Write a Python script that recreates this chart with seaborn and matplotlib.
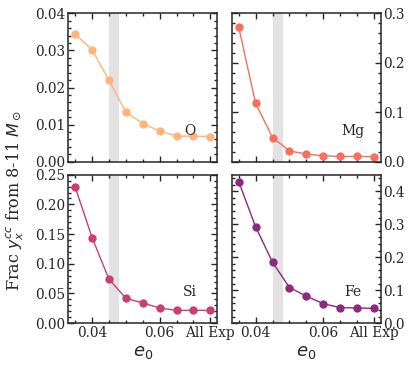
import numpy as np
import pandas as pd
import matplotlib
matplotlib.use("Agg")
import matplotlib.pyplot as plt
from matplotlib.ticker import AutoMinorLocator, MultipleLocator
import seaborn as sns

# e0 grid; the last point is the "All Exp" case, drawn at 0.075
e0 = [0.035, 0.040, 0.045, 0.050, 0.055, 0.060, 0.065, 0.070, 0.075]
xtick_pos = [0.04, 0.06, 0.075]
xtick_labels = ["0.04", "0.06", "All Exp"]

elements = ["O", "Mg", "Si", "Fe"]
frac_O = [0.0344, 0.0302, 0.0220, 0.0133, 0.0103, 0.0083, 0.0069, 0.0069, 0.0068]
frac_Mg = [0.272, 0.118, 0.049, 0.022, 0.0155, 0.012, 0.0107, 0.0107, 0.0101]
frac_Si = [0.229, 0.144, 0.074, 0.042, 0.034, 0.0255, 0.0215, 0.0215, 0.0215]
frac_Fe = [0.429, 0.292, 0.185, 0.108, 0.082, 0.059, 0.047, 0.046, 0.045]
ylims = [(0, 0.04), (0, 0.3), (0, 0.25), (0, 0.45)]
ymajor = [0.01, 0.1, 0.05, 0.1]
yfmt = ["%.2f", "%.1f", "%.2f", "%.1f"]

band = (0.045, 0.048)

sns.set_style("ticks")
plt.rcParams["font.family"] = ["DejaVu Serif"]
plt.rcParams["mathtext.fontset"] = "dejavusans"

df = pd.DataFrame(
    {
        "e0": e0 * 4,
        "frac": frac_O + frac_Mg + frac_Si + frac_Fe,
        "element": np.repeat(elements, len(e0)),
    }
)
colors = plt.cm.magma([0.84, 0.7, 0.55, 0.4])

fig = plt.figure(figsize=(4.15, 3.71), dpi=100)
lefts = [0.165, 0.559]
bottoms = [0.564, 0.129]
w, h = 0.358, 0.400
axes = []
for i, el in enumerate(elements):
    row, col = divmod(i, 2)
    ax = fig.add_axes([lefts[col], bottoms[row], w, h])
    axes.append(ax)
    ax.axvspan(band[0], band[1], color="#e2e2e2", lw=0, zorder=0)
    sns.lineplot(
        data=df[df["element"] == el], x="e0", y="frac", ax=ax,
        color=colors[i], marker="o", markersize=6, markeredgewidth=0,
        linewidth=1.0,
    )
    ax.set_xlim(0.033, 0.077)
    ax.set_ylim(*ylims[i])
    ax.set_xticks(xtick_pos)
    ax.xaxis.set_minor_locator(MultipleLocator(0.005))
    ax.yaxis.set_major_locator(MultipleLocator(ymajor[i]))
    ax.yaxis.set_minor_locator(AutoMinorLocator(5))
    ax.yaxis.set_major_formatter(plt.FormatStrFormatter(yfmt[i]))
    ax.tick_params(which="both", direction="in", top=True, right=True,
                   left=True, bottom=True, labelsize=9.8, width=1.0)
    ax.tick_params(which="major", length=4.5)
    ax.tick_params(which="minor", length=2.5)
    for s in ax.spines.values():
        s.set_linewidth(1.1)
    if col == 1:
        ax.tick_params(labelleft=False, labelright=True, pad=2)
    else:
        ax.tick_params(pad=2)
    if row == 0:
        ax.tick_params(labelbottom=False)
        ax.set_xlabel("")
    else:
        ax.set_xticklabels(xtick_labels)
        ax.set_xlabel("$e_0$", fontsize=13, labelpad=2)
    ax.set_ylabel("")
    ax.text(0.815, 0.21, el, transform=ax.transAxes, ha="center",
            va="center", fontsize=10)

fig.text(0.036, 0.46, r"Frac $y_x^{cc}$ from 8-11 $M_\odot$", rotation=90,
         ha="center", va="center", fontsize=11.5)

fig.savefig("out.png", dpi=100)
